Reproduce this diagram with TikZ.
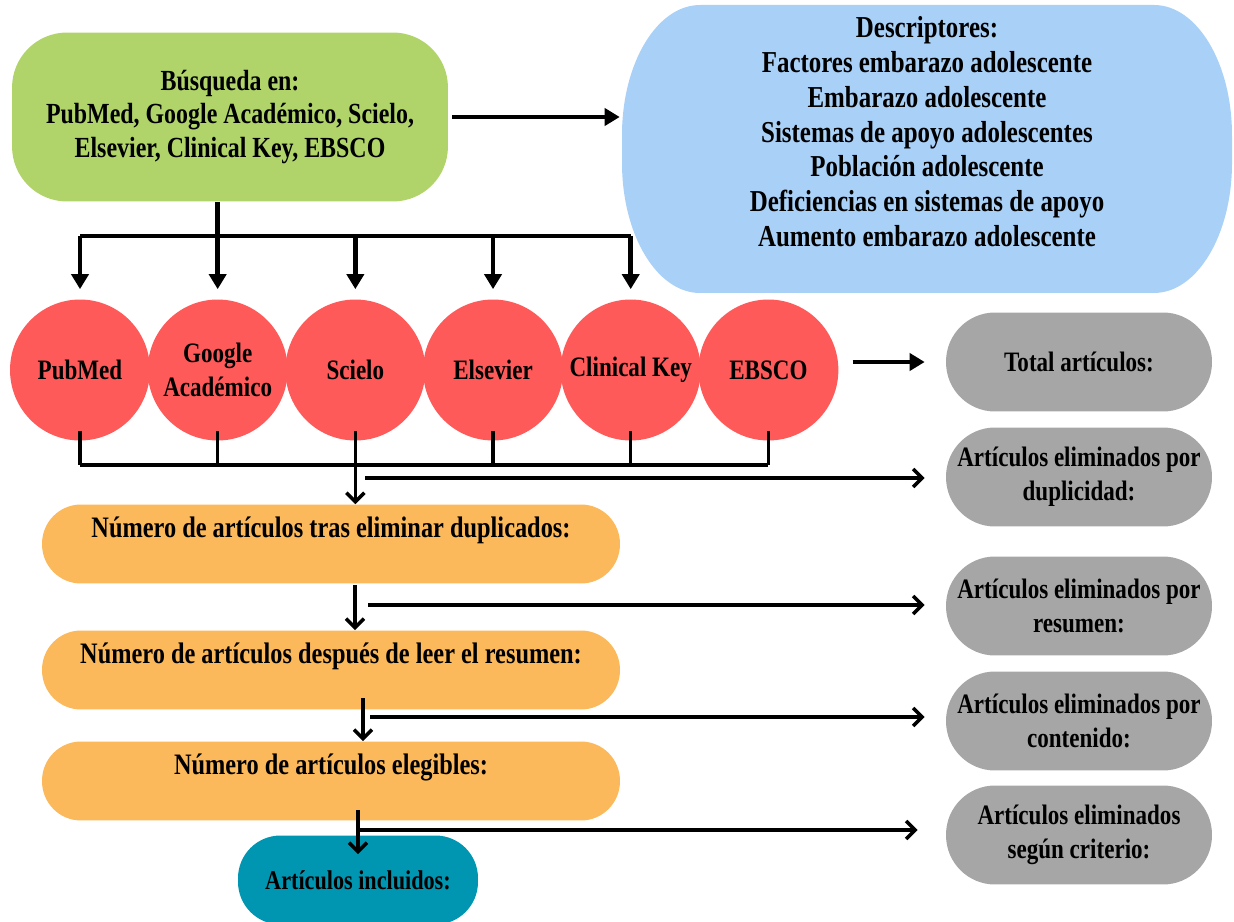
\documentclass[tikz,border=0pt]{standalone}
\usepackage{fontspec}
\newfontfamily\diagfont{Liberation Serif}[FakeStretch=0.82]
\usetikzlibrary{arrows.meta,positioning,shapes.geometric}
\definecolor{verde}{HTML}{B0D46A}
\definecolor{celeste}{HTML}{A9D1F8}
\definecolor{rojo}{HTML}{FF5A5A}
\definecolor{gris}{HTML}{A6A6A6}
\definecolor{naranja}{HTML}{FBB95B}
\definecolor{turquesa}{HTML}{0096B1}
\newcommand{\tam}[2]{\diagfont\bfseries\fontsize{#1}{#2}\selectfont}

\begin{document}
\begin{tikzpicture}[x=0.02cm, y=-0.02cm,
  txt/.style={font=\tam{16}{19.5}, align=center, inner sep=0pt},
  busq/.style={txt, font=\tam{16.6}{19.3}, fill=verde, rounded corners=1.1cm,
               minimum width=8.72cm, minimum height=3.38cm},
  desc/.style={txt, font=\tam{17.3}{19.8}, minimum width=12.2cm, minimum height=5.76cm},
  esq/.style={x radius=1.56cm, y radius=2.6cm},
  base/.style={txt, ellipse, fill=rojo, minimum width=2.8cm, minimum height=2.82cm},
  elim/.style={txt, fill=gris, rounded corners=0.98cm,
               minimum width=5.32cm, minimum height=1.98cm},
  paso/.style={txt, font=\tam{16.9}{19.5}, fill=naranja, rounded corners=0.78cm,
               minimum width=11.56cm, minimum height=1.58cm},
  incl/.style={txt, font=\tam{15.4}{19.5}, fill=turquesa, rounded corners=0.85cm,
               minimum width=4.8cm, minimum height=1.78cm},
  flecha/.style={-{Triangle[length=0.3cm, width=0.34cm]}, line width=2.8pt},
  linea/.style={line width=2.8pt},
  flechab/.style={-{Straight Barb[length=0.18cm, width=0.36cm]}, line width=2pt},
  lineab/.style={line width=2pt},
  node distance=0.4cm and -0.06cm
]
\useasboundingbox (0,0) rectangle (1234,922);
\clip (0,0) rectangle (1234,922);

\node[busq] (busq) at (230,117) {Búsqueda en:\\PubMed, Google Académico, Scielo,\\Elsevier, Clinical Key, EBSCO};

% fondo de descriptores con esquinas elipticas
\fill[celeste] (700,5) -- (1154,5) arc[esq, start angle=90, end angle=0]
  -- (1232,163) arc[esq, start angle=0, end angle=-90]
  -- (700,293) arc[esq, start angle=270, end angle=180]
  -- (622,135) arc[esq, start angle=180, end angle=90] -- cycle;
\node[desc] (desc) at (927,149) {Descriptores:\\Factores embarazo adolescente\\Embarazo adolescente\\Sistemas de apoyo adolescentes\\Población adolescente\\Deficiencias en sistemas de apoyo\\Aumento embarazo adolescente\\~};

\node[base] (pub) at (80,370) {\makebox[0pt]{PubMed}};
\node[base, right=of pub] (gac) {\makebox[0pt]{Google}\\\makebox[0pt]{Académico}};
\node[base, right=of gac] (sci) {\makebox[0pt]{Scielo}};
\node[base, right=of sci] (els) {\makebox[0pt]{Elsevier}};
\node[base, right=of els] (clin) {\makebox[0pt]{Clinical Key}};
\node[base, right=of clin] (ebs) {\makebox[0pt]{EBSCO}};

\node[elim] (tot) at (1079,362) {Total artículos:};
\node[elim] (dup) at (1079,477) {Artículos eliminados por\\duplicidad:};
\node[elim] (res) at (1079,606) {Artículos eliminados por\\resumen:};
\node[elim] (cont) at (1079,721) {Artículos eliminados por\\contenido:};
\node[elim] (crit) at (1079,835) {Artículos eliminados\\según criterio:};

\node[paso] (dupl) at (331,544) {Número de artículos tras eliminar duplicados:\\~};
\node[paso] (resu) at (331,670) {Número de artículos después de leer el resumen:\\~};
\node[paso] (eleg) at (331,781) {Número de artículos elegibles:\\~};
\node[incl] (inc) at (358,880) {Artículos incluidos:};

\draw[flecha, shorten <=0.08cm, shorten >=0.04cm] (busq.east) -- (busq.east -| desc.west);

\coordinate (bus) at (0,236);
\draw[linea] (busq.south -| gac) -- (gac |- bus);
\draw[linea] (pub |- bus) -- (clin |- bus);
\foreach \b in {pub,gac,sci,els,clin}
  \draw[flecha, shorten >=0.2cm] (\b |- bus) -- (\b.north);

\draw[flecha, shorten <=0.28cm, shorten >=0.42cm] (ebs.east |- tot) -- (tot.west);

\coordinate (bus2) at (0,465);
\foreach \b in {pub,gac,els,clin,ebs}
  \draw[lineab] ([yshift=0.2cm]\b.south) -- (\b |- bus2);
\draw[lineab] (pub |- bus2) -- (ebs |- bus2);
\draw[flechab] ([yshift=0.2cm]sci.south) -- (sci |- dupl.north);

\coordinate (c1) at (365,478);
\draw[flechab, shorten >=0.42cm] (c1) -- (c1 -| dup.west);

\coordinate (v2) at (355,585);
\coordinate (c2) at (368,605);
\draw[flechab] (v2) -- (v2 |- resu.north);
\draw[flechab, shorten >=0.42cm] (c2) -- (c2 -| res.west);

\coordinate (v3) at (363,698);
\coordinate (c3) at (370,717);
\draw[flechab] (v3) -- (v3 |- eleg.north);
\draw[flechab, shorten >=0.42cm] (c3) -- (c3 -| cont.west);

\coordinate (v4) at (358,810);
\coordinate (c4) at (360,830);
\draw[flechab] (v4) -- ([yshift=-0.38cm]inc.north);
\draw[flechab, shorten >=0.56cm] (c4) -- (c4 -| crit.west);
\end{tikzpicture}
\end{document}
